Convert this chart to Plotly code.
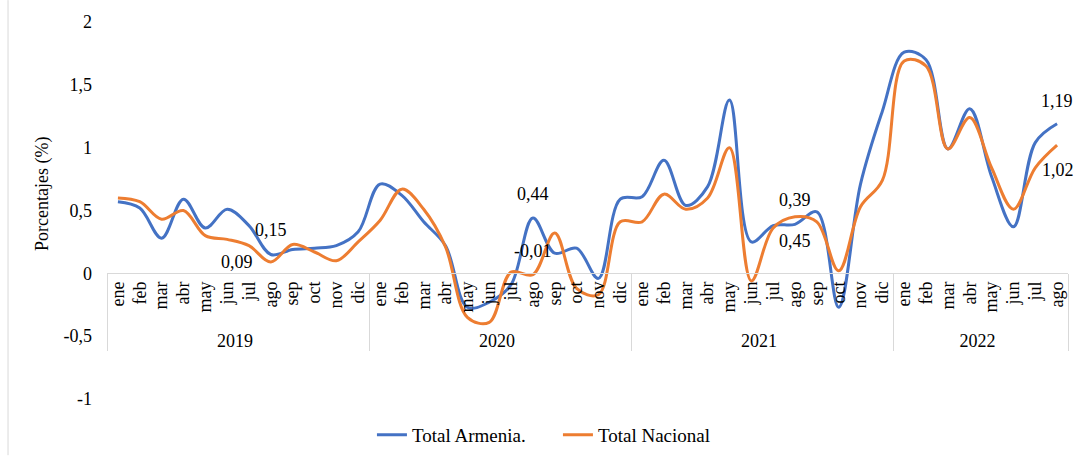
import plotly.graph_objects as go

years = ["2019"] * 12 + ["2020"] * 12 + ["2021"] * 12 + ["2022"] * 8
month_names = ["ene", "feb", "mar", "abr", "may", "jun", "jul", "ago", "sep", "oct", "nov", "dic"]
months = month_names * 3 + month_names[:8]

armenia = [
    0.57, 0.52, 0.28, 0.59, 0.36, 0.51, 0.38, 0.15, 0.19, 0.20, 0.22, 0.33,
    0.71, 0.62, 0.41, 0.22, -0.27, -0.23, -0.09, 0.44, 0.16, 0.20, -0.04, 0.59,
    0.61, 0.90, 0.54, 0.69, 1.38, 0.25, 0.38, 0.39, 0.49, -0.27, 0.71, 1.29,
    1.76, 1.70, 0.99, 1.31, 0.77, 0.37, 1.04, 1.19,
]
nacional = [
    0.60, 0.57, 0.43, 0.50, 0.30, 0.27, 0.22, 0.09, 0.23, 0.17, 0.10, 0.25,
    0.42, 0.67, 0.51, 0.21, -0.35, -0.39, 0.01, -0.01, 0.32, -0.12, -0.17, 0.41,
    0.41, 0.63, 0.51, 0.60, 1.00, -0.06, 0.36, 0.45, 0.41, 0.02, 0.53, 0.74,
    1.69, 1.65, 0.99, 1.24, 0.84, 0.51, 0.84, 1.02,
]

y_tickvals = [-1, -0.5, 0, 0.5, 1, 1.5, 2]
y_ticktext = ["-1", "-0,5", "0", "0,5", "1", "1,5", "2"]

# labelled points: (index, yshift, xshift)
labelled_armenia = [(7, 24, 0), (19, 24, 0), (31, 24, 0), (43, 23, 0)]
labelled_nacional = [(7, 0, -34), (19, 24, 0), (31, -24, 0), (43, -25, 1)]

BLUE = "#4472C4"
ORANGE = "#ED7D31"
FONT = "'Liberation Serif', 'Times New Roman', serif"
GRAY = "#d9d9d9"


def fmt(v):
    return f"{v:.2f}".replace(".", ",")


fig = go.Figure()
fig.add_trace(go.Scatter(
    x=[years, months], y=armenia, mode="lines", name="Total Armenia.",
    line=dict(color=BLUE, width=3, shape="spline", smoothing=1.0),
))
fig.add_trace(go.Scatter(
    x=[years, months], y=nacional, mode="lines", name="Total Nacional",
    line=dict(color=ORANGE, width=3, shape="spline", smoothing=1.0),
))

annotations = []
for idx, ys, xs in labelled_armenia:
    annotations.append(dict(x=idx, y=armenia[idx], xref="x", yref="y", text=fmt(armenia[idx]),
                            showarrow=False, yshift=ys, xshift=xs,
                            font=dict(family=FONT, size=18, color="black")))
for idx, ys, xs in labelled_nacional:
    annotations.append(dict(x=idx, y=nacional[idx], xref="x", yref="y", text=fmt(nacional[idx]),
                            showarrow=False, yshift=ys, xshift=xs,
                            font=dict(family=FONT, size=18, color="black")))
annotations.append(dict(x=-0.0666, y=0.544, xref="paper", yref="paper", text="Porcentajes (%)",
                        textangle=-90, showarrow=False, xanchor="center", yanchor="middle",
                        font=dict(family=FONT, size=18, color="black")))

fig.update_layout(
    width=1074, height=458,
    margin=dict(l=107, r=6, t=22, b=59, autoexpand=False),
    paper_bgcolor="white", plot_bgcolor="white",
    font=dict(family=FONT, size=18, color="black"),
    showlegend=True,
    legend=dict(orientation="h", x=0.2757, xanchor="left", y=-0.095, yanchor="middle",
                font=dict(family=FONT, size=19, color="black"),
                entrywidth=141, entrywidthmode="pixels",
                bgcolor="rgba(0,0,0,0)"),
    annotations=annotations,
    shapes=[dict(type="line", xref="paper", yref="paper", x0=-0.103, x1=-0.103, y0=-0.149, y1=1.058,
                 line=dict(color=GRAY, width=1))],
)
fig.update_xaxes(
    type="multicategory", anchor="free", position=1 / 3,
    showline=True, linecolor=GRAY, linewidth=1,
    showdividers=True, dividercolor=GRAY, dividerwidth=1,
    tickmode="linear", dtick=1,
    tickangle=-90, showgrid=False, zeroline=False,
    tickfont=dict(family=FONT, size=18, color="black"),
    range=[-0.5, 43.5], automargin=False,
)
fig.update_yaxes(
    range=[-1, 2], tickvals=y_tickvals, ticktext=y_ticktext,
    showgrid=False, zeroline=False, showline=False,
    ticklabelstandoff=14, automargin=False,
    tickfont=dict(family=FONT, size=18, color="black"),
)

fig.write_html("out.html", config={"displayModeBar": False},
               post_script="document.body.style.margin='0';")
